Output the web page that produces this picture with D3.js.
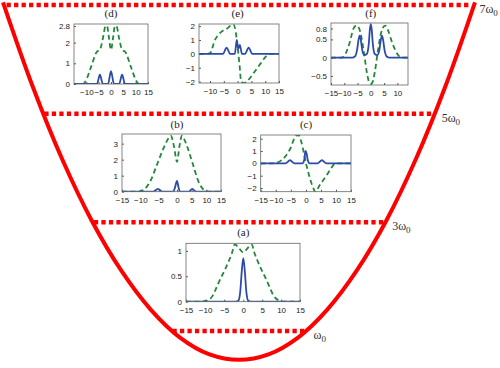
<!DOCTYPE html>
<html>
<head>
<meta charset="utf-8">
<script src="https://cdn.jsdelivr.net/npm/d3@7"></script>
<style>
  body { margin: 0; background: #fff; }
  svg { display: block; }
</style>
</head>
<body>
<div id="chart"></div>
<script>
// energy levels (units of w0) and where each dashed level meets the well
const levels = [1, 3, 5, 7];
const levelHalfWidth = [0.282, 0.615, 0.825, 0.985];
const levelCoef = ['', '3', '5', '7'];

// harmonic well
const wellX = [-1, -0.875, -0.75, -0.625, -0.5, -0.375, -0.25, -0.125, 0, 0.125, 0.25, 0.375, 0.5, 0.625, 0.75, 0.875, 1];
const wellV = [7.05, 5.51, 4.17, 3.04, 2.12, 1.4, 0.88, 0.57, 0.47, 0.57, 0.88, 1.4, 2.12, 3.04, 4.17, 5.51, 7.05];

// inset (a)
const aGreenX = [-15, -11, -9.6, -8, -7, -6, -4.8, -3.8, -3, -2.2, -1.2, 0, 1.2, 2.2, 3, 3.8, 4.8, 6, 7, 8, 9.6, 11, 15];
const aGreenY = [0, 0, 0.02, 0.12, 0.28, 0.45, 0.63, 0.8, 0.95, 1.13, 1.06, 0.97, 1.06, 1.13, 0.95, 0.8, 0.63, 0.45, 0.28, 0.12, 0.02, 0, 0];
const aBlueX = [-15, -2, -1.3, -0.8, -0.4, 0, 0.4, 0.8, 1.3, 2, 15];
const aBlueY = [0, 0, 0.02, 0.2, 0.6, 0.86, 0.6, 0.2, 0.02, 0, 0];

// inset (b)
const bGreenX = [-15, -10.5, -9.2, -7.4, -5.5, -3.7, -2.4, -1.7, -0.8, 0, 0.8, 1.7, 2.4, 3.7, 5.5, 7.4, 9.2, 10.5, 15];
const bGreenY = [0, 0, 0.1, 0.6, 1.66, 2.7, 3.3, 3.5, 2.8, 1.86, 2.8, 3.5, 3.3, 2.7, 1.66, 0.6, 0.1, 0, 0];
const bBlueX = [-15, -6.5, -5.2, -4, -1, -0.5, 0, 0.5, 1, 4, 5.2, 6.5, 15];
const bBlueY = [0, 0, 0.18, 0, 0, 0.3, 0.68, 0.3, 0, 0, 0.18, 0, 0];

// inset (c)
const cGreenX = [-15, -10.8, -8, -5.3, -3.3, -2.5, -1.4, 0, 1.3, 2.6, 3.1, 4.5, 6.8, 8.5, 9.8, 15];
const cGreenY = [0, 0, 0.28, 1.14, 2.25, 2.3, 1.6, 0, -1.2, -2.1, -2.3, -1.8, -1.0, -0.35, 0, 0];
const cBlueX = [-15, -6.8, -5.3, -3.8, -1.2, -0.6, -0.2, 0.2, 0.6, 1.2, 3.8, 5.3, 6.8, 15];
const cBlueY = [0, 0, 0.25, 0, 0, 0.25, 1.0, 0.8, 0.25, 0, 0, 0.25, 0, 0];

// inset (d)
const dGreenX = [-15, -11.5, -10.5, -8, -5.8, -4.5, -3.3, -2.2, -1.6, -0.8, 0, 0.8, 1.6, 2.2, 3.3, 4.5, 5.8, 8, 10.5, 11.5, 15];
const dGreenY = [0, 0, 0.1, 0.85, 1.55, 1.65, 2.2, 2.8, 2.8, 2.2, 1.65, 2.2, 2.8, 2.8, 2.2, 1.65, 1.55, 0.85, 0.1, 0, 0];
const dBlueX = [-15, -5.7, -4.5, -3.3, -1.2, 0, 1.2, 3.3, 4.5, 5.7, 15];
const dBlueY = [0, 0, 0.45, 0, 0, 0.62, 0, 0, 0.45, 0, 0];

// inset (e)
const eGreenX = [-14, -11, -10, -8.2, -5.8, -4, -2.3, -1.5, -0.7, 0, 0.7, 1.3, 2.5, 4, 6.7, 8.5, 10.2, 11.5, 15];
const eGreenY = [0, 0, 0.05, 1.0, 1.6, 1.8, 2.05, 2.1, 1.6, 0.5, -0.8, -2.0, -2.1, -1.85, -1.14, -0.65, -0.2, 0, 0];
const eBlueX = [-14, -5.3, -4, -2.7, -1, -0.3, 0.2, 0.8, 1.6, 2.7, 4, 5.3, 15];
const eBlueY = [0, 0, 0.45, 0, 0, 1.0, 0.35, 0.65, 0, 0, 0.45, 0, 0];

// inset (f)
const fGreenX = [-15, -11, -10, -8, -6.5, -5.4, -4.4, -3.5, -2.5, -1.5, -0.6, 0, 0.6, 1.5, 2.5, 3.5, 4.4, 5.4, 6.5, 8, 10, 11.5, 14];
const fGreenY = [0, 0, 0.05, 0.4, 0.8, 0.88, 0.8, 0.55, 0.1, -0.4, -0.68, -0.72, -0.68, -0.4, 0.1, 0.55, 0.8, 0.88, 0.75, 0.42, 0.1, 0, 0];
const fBlueX = [-15, -7, -6, -5.2, -4.6, -4.2, -3.8, -3.2, -2.5, -1.5, -0.8, -0.3, 0, 0.3, 0.8, 1.5, 2.5, 3.2, 3.8, 4.2, 4.6, 5.2, 6, 7, 14];
const fBlueY = [0, 0, 0.03, 0.2, 0.5, 0.6, 0.5, 0.2, 0.07, 0.1, 0.35, 0.8, 0.92, 0.8, 0.35, 0.1, 0.07, 0.2, 0.5, 0.6, 0.5, 0.2, 0.03, 0, 0];

// tick labels
const xTicksFull = [-15, -10, -5, 0, 5, 10, 15];
const xTicksRight = [-10, -5, 0, 5, 10, 15];
const xTicksLeft = [-15, -10, -5, 0, 5, 10];

const RED = '#ff0000';
const BLUE = '#2b4ba6';
const GREEN = '#23883a';

const svg = d3.select('#chart').append('svg')
  .attr('width', 500)
  .attr('height', 368);

// --- well and levels ---
const xW = d3.scaleLinear().domain([-1, 1]).range([3, 475]);
const yE = d3.scaleLinear().domain([0, 7]).range([385.4, 5]);

svg.append('path')
  .datum(d3.zip(wellX, wellV))
  .attr('d', d3.line().x(d => xW(d[0])).y(d => yE(d[1])).curve(d3.curveCatmullRom))
  .attr('fill', 'none')
  .attr('stroke', RED)
  .attr('stroke-width', 4);

levels.forEach((e, i) => {
  svg.append('line')
    .attr('x1', xW(-levelHalfWidth[i]))
    .attr('x2', xW(levelHalfWidth[i]))
    .attr('y1', yE(e))
    .attr('y2', yE(e))
    .attr('stroke', RED)
    .attr('stroke-width', 4.5)
    .attr('stroke-dasharray', '4.3,3.2');

  const t = svg.append('text')
    .attr('x', xW(levelHalfWidth[i]) + 8)
    .attr('y', yE(e) + 8)
    .attr('font-family', 'Liberation Serif, serif')
    .attr('font-size', 12)
    .attr('fill', '#333');
  t.append('tspan').text(levelCoef[i] + 'ω');
  t.append('tspan').attr('dy', 3).attr('font-size', 9).text('0');
});

// --- insets ---
const insets = [
  { name: 'a', x0: 186, x1: 300, y0: 243.3, y1: 301.7, xDomain: [-15, 0, 15], xRange: [186, 243.3, 300],
    yDomain: [0, 1.15], xTicks: xTicksFull, yTicks: [0, 0.5, 1], titleY: 236,
    green: [aGreenX, aGreenY], blue: [aBlueX, aBlueY] },
  { name: 'b', x0: 122, x1: 221, y0: 134, y1: 191.7, xDomain: [-15, 0, 15], xRange: [122, 177, 221],
    yDomain: [0, 3.6], xTicks: xTicksFull, yTicks: [0, 1, 2, 3], titleY: 128,
    green: [bGreenX, bGreenY], blue: [bBlueX, bBlueY] },
  { name: 'c', x0: 260.7, x1: 351, y0: 135, y1: 191.7, xDomain: [-15, 0, 15], xRange: [260.7, 306, 351],
    yDomain: [-2.3, 2.3], xTicks: xTicksFull, yTicks: [-2, -1, 0, 1, 2], titleY: 128,
    green: [cGreenX, cGreenY], blue: [cBlueX, cBlueY] },
  { name: 'd', x0: 74, x1: 148, y0: 24, y1: 84, xDomain: [-15, 0, 15], xRange: [74, 111, 148],
    yDomain: [0, 2.9], xTicks: xTicksRight, yTicks: [0, 1, 2, 2.8], titleY: 17,
    green: [dGreenX, dGreenY], blue: [dBlueX, dBlueY] },
  { name: 'e', x0: 199, x1: 279, y0: 24, y1: 83, xDomain: [-14, 0, 15], xRange: [199, 237.6, 279],
    yDomain: [-2.1, 2.15], xTicks: xTicksRight, yTicks: [-2, -1, 0, 1, 2], titleY: 17,
    green: [eGreenX, eGreenY], blue: [eBlueX, eBlueY] },
  { name: 'f', x0: 331, x1: 408, y0: 23, y1: 85, xDomain: [-15, 0, 14], xRange: [331, 370.8, 408],
    yDomain: [-0.75, 0.95], xTicks: xTicksLeft, yTicks: [-0.5, 0, 0.5, 0.8], titleY: 17,
    green: [fGreenX, fGreenY], blue: [fBlueX, fBlueY] }
];

const tickFmt = d3.format('~g');

function styleAxis(a) {
  a.attr('font-family', null).attr('font-size', null);
  a.select('.domain').remove();
  a.selectAll('line').attr('stroke', '#555');
  a.selectAll('text')
    .attr('font-family', 'Liberation Sans, Arial, sans-serif')
    .attr('font-size', 8)
    .attr('fill', '#222');
}

insets.forEach(cfg => {
  const g = svg.append('g');
  const x = d3.scaleLinear().domain(cfg.xDomain).range(cfg.xRange);
  const y = d3.scaleLinear().domain(cfg.yDomain).range([cfg.y1, cfg.y0]);

  const clipId = 'clip-' + cfg.name;
  svg.append('clipPath').attr('id', clipId)
    .append('rect')
    .attr('x', cfg.x0).attr('y', cfg.y0)
    .attr('width', cfg.x1 - cfg.x0).attr('height', cfg.y1 - cfg.y0);

  g.append('g')
    .attr('transform', `translate(0,${cfg.y1})`)
    .call(d3.axisBottom(x).tickValues(cfg.xTicks).tickSize(-2).tickPadding(5.5).tickFormat(tickFmt))
    .call(styleAxis);

  g.append('g')
    .attr('transform', `translate(${cfg.x0},0)`)
    .call(d3.axisLeft(y).tickValues(cfg.yTicks).tickSize(-2).tickPadding(4).tickFormat(tickFmt))
    .call(styleAxis);

  const line = d3.line().x(d => x(d[0])).y(d => y(d[1])).curve(d3.curveMonotoneX);
  const plot = g.append('g').attr('clip-path', `url(#${clipId})`);

  plot.append('path')
    .datum(d3.zip(cfg.green[0], cfg.green[1]))
    .attr('d', line)
    .attr('fill', 'none')
    .attr('stroke', GREEN)
    .attr('stroke-width', 1.8)
    .attr('stroke-dasharray', '5,3.3');

  plot.append('path')
    .datum(d3.zip(cfg.blue[0], cfg.blue[1]))
    .attr('d', line)
    .attr('fill', 'none')
    .attr('stroke', BLUE)
    .attr('stroke-width', 1.8);

  g.append('rect')
    .attr('x', cfg.x0).attr('y', cfg.y0)
    .attr('width', cfg.x1 - cfg.x0).attr('height', cfg.y1 - cfg.y0)
    .attr('fill', 'none')
    .attr('stroke', '#666')
    .attr('stroke-width', 0.8);

  g.append('text')
    .attr('x', x(0))
    .attr('y', cfg.titleY)
    .attr('text-anchor', 'middle')
    .attr('font-family', 'Liberation Serif, serif')
    .attr('font-size', 11)
    .attr('fill', '#222')
    .text('(' + cfg.name + ')');
});
</script>
</body>
</html>
